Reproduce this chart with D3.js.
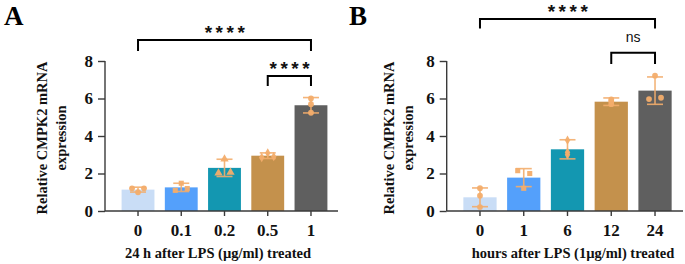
<!DOCTYPE html>
<html><head><meta charset="utf-8">
<script src="https://cdn.jsdelivr.net/npm/d3@7"></script>
<style>body{margin:0;background:#fff}svg{display:block}</style>
</head><body>
<svg id="c" width="685" height="264"></svg>
<script>
// ---- data ----
const catsA = ["0", "0.1", "0.2", "0.5", "1"];
const meansA = [1.14, 1.26, 2.30, 2.95, 5.64];
const sdA = [0.13, 0.22, 0.46, 0.15, 0.41];
const pointsA = [[1.21, 1.00, 1.21], [1.10, 1.48, 1.20], [2.02, 2.77, 2.06], [2.85, 3.10, 2.90], [5.70, 6.00, 5.24]];
const jitterA = [[-1, 0, 1], [-1, 0, 1], [-1, 0, 1], [-1, 0, 1], [0, 0, 0]];
const catsB = ["0", "1", "6", "12", "24"];
const meansB = [0.73, 1.78, 3.29, 5.83, 6.42];
const sdB = [0.50, 0.48, 0.51, 0.20, 0.73];
const pointsB = [[0.82, 1.22, 0.21], [2.15, 1.21, 2.00], [3.00, 3.78, 3.13], [5.95, 5.70, 5.84], [5.97, 7.22, 6.04]];
const jitterB = [[0, 0, 0], [-1, 0, 1], [0, 0, 0], [0, 0, 0], [-1, 0, 1]];
const yTicks = [0, 2, 4, 6, 8];
const barColors = ["#c9ddf6", "#54a0fb", "#1397b1", "#c4914c", "#5f5f5f"];
const symbolsA = ["circle", "square", "triangle", "diamond", "circle"];
const symbolsB = ["circle", "square", "diamond", "circle", "circle"];
const titleA = "24 h after LPS (µg/ml) treated";
const titleB = "hours after LPS (1µg/ml) treated";
const yTitle = ["Relative CMPK2 mRNA", "expression"];
// significance brackets: [fromIndex, toIndex, label, bracketLevel, legLevel, labelLevel]
const sigA = [[0, 4, "****", 9.12, 8.53, 9.65], [3, 4, "****", 7.2, 6.67, 7.75]];
const sigB = [[0, 4, "****", 10.24, 9.74, 10.75], [3, 4, "ns", 8.44, 7.84, 9.0]];

const svg = d3.select("#c");
const serif = "'Liberation Serif','Times New Roman',serif";
const symMap = {circle: d3.symbolCircle, square: d3.symbolSquare, triangle: d3.symbolTriangle, diamond: d3.symbolDiamond};

function panel(opt) {
  const g = svg.append("g");
  const y = d3.scaleLinear().domain([0, 8]).range([211, 61]);
  const x = d3.scaleBand().domain(opt.cats).range(opt.xr).paddingInner(0.24).paddingOuter(0.12);
  const axisColor = "#3a3a3a";

  // bars
  g.selectAll("rect.bar").data(opt.means).join("rect")
    .attr("x", (d, i) => x(opt.cats[i]))
    .attr("width", x.bandwidth())
    .attr("y", d => y(d))
    .attr("height", d => y(0) - y(d))
    .attr("fill", (d, i) => barColors[i]);

  // error bars
  const eb = "#f3ad6c";
  opt.means.forEach((m, i) => {
    const cx = x(opt.cats[i]) + x.bandwidth() / 2;
    const lo = m - opt.sd[i], hi = m + opt.sd[i];
    const e = g.append("g").attr("stroke", eb).attr("stroke-width", 1.6).attr("opacity", 0.9);
    e.append("line").attr("x1", cx).attr("x2", cx).attr("y1", y(lo)).attr("y2", y(hi));
    e.append("line").attr("x1", cx - 8).attr("x2", cx + 8).attr("y1", y(lo)).attr("y2", y(lo));
    e.append("line").attr("x1", cx - 8).attr("x2", cx + 8).attr("y1", y(hi)).attr("y2", y(hi));
    opt.points[i].forEach((p, k) => {
      g.append("path")
        .attr("d", d3.symbol().type(symMap[opt.symbols[i]]).size(opt.symbols[i] === "triangle" ? 30 : 26)())
        .attr("transform", `translate(${cx + opt.jitter[i][k] * 6},${y(p)})`)
        .attr("fill", eb).attr("opacity", 0.95);
    });
  });

  // y axis
  const ya = g.append("g").attr("transform", `translate(${opt.yAxisX},0)`)
    .call(d3.axisLeft(y).tickValues(yTicks).tickSize(7).tickPadding(5).tickFormat(d3.format("d")));
  ya.select(".domain").attr("stroke", axisColor).attr("stroke-width", 1.4).attr("d", `M0,${y(8)}V${y(0)}`);
  ya.selectAll(".tick line").attr("stroke", axisColor).attr("stroke-width", 1.4);
  ya.selectAll(".tick text").attr("font-family", serif).attr("font-weight", "bold").attr("font-size", 17).attr("fill", "#111");

  // x axis
  const xa = g.append("g").attr("transform", `translate(0,${y(0)})`)
    .call(d3.axisBottom(x).tickSize(5).tickPadding(8));
  xa.select(".domain").attr("stroke", axisColor).attr("stroke-width", 1.4).attr("d", `M${opt.yAxisX},0H${opt.xEnd}`);
  xa.selectAll(".tick line").attr("stroke", axisColor).attr("stroke-width", 1.4);
  xa.selectAll(".tick text").attr("font-family", serif).attr("font-weight", "bold").attr("font-size", 17).attr("fill", "#111");

  // axis titles
  g.append("text").attr("x", opt.titleX).attr("y", 258).attr("text-anchor", "middle")
    .attr("font-family", serif).attr("font-weight", "bold").attr("font-size", 14.5).attr("fill", "#111")
    .text(opt.title);
  const yt = g.append("text").attr("transform", `translate(${opt.yTitleX},138) rotate(-90)`)
    .attr("text-anchor", "middle").attr("font-family", serif).attr("font-weight", "bold")
    .attr("font-size", 14.5).attr("fill", "#111");
  yt.append("tspan").attr("x", 0).attr("dy", 0).text(yTitle[0]);
  yt.append("tspan").attr("x", 0).attr("dy", 18.5).text(yTitle[1]);

  // panel label
  g.append("text").attr("x", opt.labelX).attr("y", opt.labelY).attr("font-family", serif)
    .attr("font-weight", "bold").attr("font-size", 27).attr("fill", "#000").text(opt.label);

  // significance
  opt.sig.forEach(s => {
    const x1 = x(opt.cats[s[0]]) + x.bandwidth() / 2;
    const x2 = x(opt.cats[s[1]]) + x.bandwidth() / 2;
    g.append("path").attr("fill", "none").attr("stroke", "#000").attr("stroke-width", 2)
      .attr("d", `M${x1},${y(s[4])}V${y(s[3])}H${x2}V${y(s[4])}`);
    const t = g.append("text").attr("x", (x1 + x2) / 2 + (s[2] === "ns" ? 0 : 2)).attr("y", y(s[5]) + (s[2] === "ns" ? 0 : 9))
      .attr("text-anchor", "middle").attr("fill", "#111")
      .attr("font-family", "'Liberation Sans',Arial,sans-serif");
    if (s[2] === "ns") t.attr("font-size", 14).text(s[2]);
    else t.attr("font-size", 19).attr("font-weight", "bold").attr("letter-spacing", 3.5).text(s[2]);
  });
}

panel({cats: catsA, means: meansA, sd: sdA, points: pointsA, jitter: jitterA, symbols: symbolsA,
  xr: [116.4, 332.6], yAxisX: 105, xEnd: 338, title: titleA, titleX: 218, yTitleX: 47,
  label: "A", labelX: 4, labelY: 25, sig: sigA});
panel({cats: catsB, means: meansB, sd: sdB, points: pointsB, jitter: jitterB, symbols: symbolsB,
  xr: [458.1, 676.9], yAxisX: 446.7, xEnd: 683, title: titleB, titleX: 573, yTitleX: 394,
  label: "B", labelX: 349, labelY: 24.5, sig: sigB});
</script>
</body></html>
